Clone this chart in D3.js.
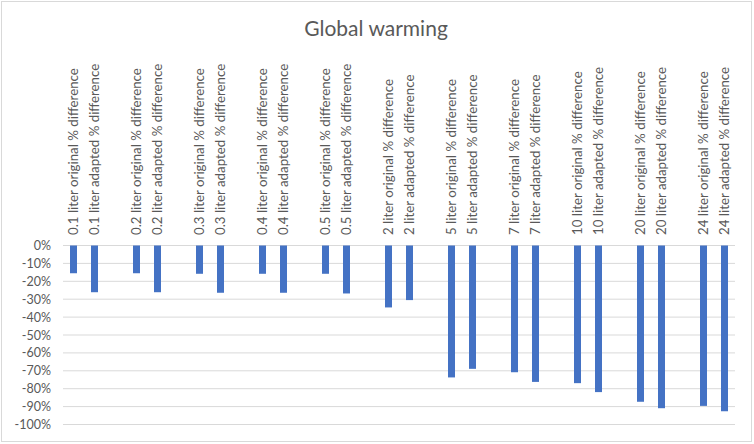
<!DOCTYPE html>
<html><head><meta charset="utf-8">
<script src="https://cdn.jsdelivr.net/npm/d3@7"></script>
<style>body{margin:0;background:#fff}svg{display:block}</style>
</head><body><svg id="c" width="754" height="444"></svg>
<script>
const categories = [
 "0.1 liter original % difference","0.1 liter adapted % difference","",
 "0.2 liter original % difference","0.2 liter adapted % difference","",
 "0.3 liter original % difference","0.3 liter adapted % difference","",
 "0.4 liter original % difference","0.4 liter adapted % difference","",
 "0.5 liter original % difference","0.5 liter adapted % difference","",
 "2 liter original % difference","2 liter adapted % difference","",
 "5 liter original % difference","5 liter adapted % difference","",
 "7 liter original % difference","7 liter adapted % difference","",
 "10 liter original % difference","10 liter adapted % difference","",
 "20 liter original % difference","20 liter adapted % difference","",
 "24 liter original % difference","24 liter adapted % difference"
];
const values = [
 -15.5,-26.1,null,
 -15.5,-26.1,null,
 -15.8,-26.4,null,
 -15.8,-26.4,null,
 -15.8,-26.8,null,
 -34.6,-30.5,null,
 -73.7,-68.9,null,
 -70.8,-76.2,null,
 -76.9,-81.9,null,
 -87.3,-90.9,null,
 -89.6,-92.6
];
const yTicks = [0,-10,-20,-30,-40,-50,-60,-70,-80,-90,-100];
const title = "Global warming";

const svg = d3.select("#c");
const font = "Lato, 'Open Sans', sans-serif";
const grey = "#595959";

svg.append("rect").attr("x",1.5).attr("y",1.5).attr("width",750).attr("height",440)
  .attr("fill","#fff").attr("stroke","#d9d9d9");

svg.append("text").attr("x",376).attr("y",36).attr("text-anchor","middle")
  .attr("font-family",font).attr("font-size",21).attr("fill",grey).text(title);

const idx = categories.map((d,i)=>i);
const x = d3.scaleBand().domain(idx).range([63,735]).padding(0);
const y = d3.scaleLinear().domain([-100,0]).range([424.5,245.5]);

// grid
svg.append("g").selectAll("line").data(yTicks).join("line")
  .attr("x1",63).attr("x2",735).attr("y1",d=>y(d)).attr("y2",d=>y(d))
  .attr("stroke","#d9d9d9").attr("stroke-width",1);

// y axis labels
const yAxis = d3.axisLeft(y).tickValues(yTicks).tickSize(0).tickPadding(0)
  .tickFormat(d=>d+"%");
const ya = svg.append("g").attr("transform","translate(51,0)").call(yAxis);
ya.select(".domain").remove();
ya.selectAll("text").attr("font-family",font).attr("font-size",12.5).attr("fill",grey);

// bars
const bw = 7;
svg.append("g").selectAll("rect").data(idx.filter(i=>values[i]!=null)).join("rect")
  .attr("x",i=>x(i)+x.bandwidth()/2-bw/2).attr("width",bw)
  .attr("y",y(0)).attr("height",i=>y(values[i])-y(0))
  .attr("fill","#4472C4");

// category labels
svg.append("g").selectAll("text").data(idx.filter(i=>categories[i]!=="")).join("text")
  .attr("transform",i=>`translate(${x(i)+x.bandwidth()/2+4.5},235) rotate(-90)`)
  .attr("text-anchor","start")
  .attr("font-family",font).attr("font-size",13.3).attr("fill",grey)
  .text(i=>categories[i]);
</script></body></html>
